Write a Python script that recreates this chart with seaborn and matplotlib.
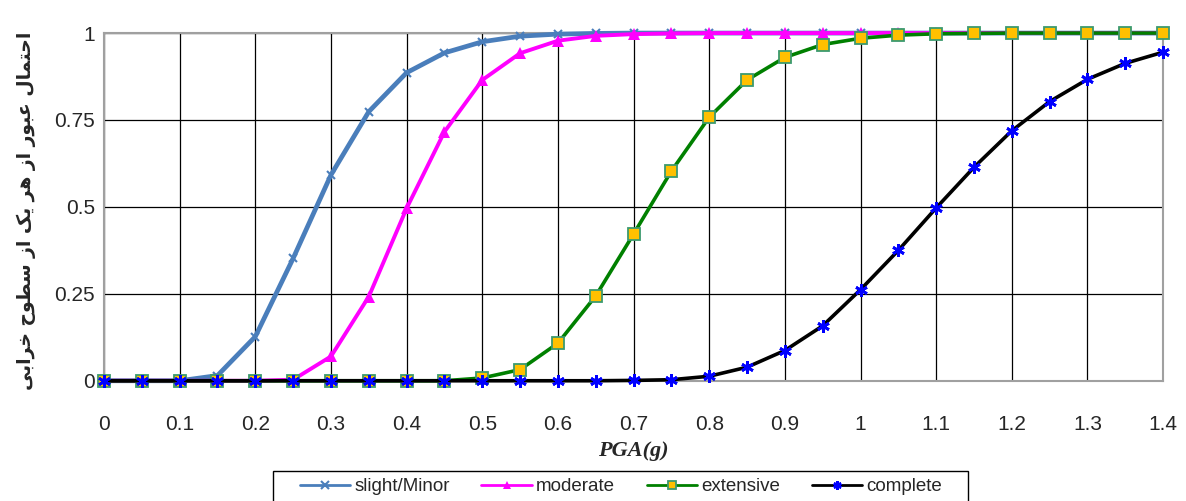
import matplotlib
matplotlib.use("Agg")
import matplotlib.pyplot as plt
from matplotlib.patches import Rectangle
import seaborn as sns
import pandas as pd

pga = [0, 0.05, 0.1, 0.15, 0.2, 0.25, 0.3, 0.35, 0.4, 0.45, 0.5, 0.55, 0.6, 0.65, 0.7,
       0.75, 0.8, 0.85, 0.9, 0.95, 1.0, 1.05, 1.1, 1.15, 1.2, 1.25, 1.3, 1.35, 1.4]

slight = [0, 0, 0, 0.015, 0.127, 0.352, 0.592, 0.774, 0.886, 0.943, 0.975, 0.991, 0.997, 0.999,
          1, 1, 1, 1, 1, 1, 1, 1, 1, 1, 1, 1, 1, 1, 1]
moderate = [0, 0, 0, 0, 0, 0.003, 0.07, 0.242, 0.496, 0.716, 0.865, 0.942, 0.978, 0.992, 0.997,
            0.999, 1, 1, 1, 1, 1, 1, 1, 1, 1, 1, 1, 1, 1]
extensive = [0, 0, 0, 0, 0, 0, 0, 0, 0, 0, 0.008, 0.032, 0.108, 0.244, 0.422, 0.603, 0.758, 0.865,
             0.930, 0.967, 0.985, 0.994, 0.998, 0.999, 1, 1, 1, 1, 1]
complete = [0, 0, 0, 0, 0, 0, 0, 0, 0, 0, 0, 0, 0, 0, 0.001, 0.003, 0.013, 0.039, 0.087, 0.158,
            0.262, 0.375, 0.497, 0.614, 0.719, 0.803, 0.867, 0.913, 0.945]

series_names = ["slight/Minor", "moderate", "extensive", "complete"]
x_ticks = [0, 0.1, 0.2, 0.3, 0.4, 0.5, 0.6, 0.7, 0.8, 0.9, 1.0, 1.1, 1.2, 1.3, 1.4]
x_tick_labels = ["0", "0.1", "0.2", "0.3", "0.4", "0.5", "0.6", "0.7", "0.8", "0.9",
                 "1", "1.1", "1.2", "1.3", "1.4"]
y_ticks = [0, 0.25, 0.5, 0.75, 1]
y_tick_labels = ["0", "0.25", "0.5", "0.75", "1"]
x_title = "PGA(g)"
y_title = "احتمال عبور از هر یک از سطوح خرابی"

# minimal arabic/persian shaping (matplotlib has no bidi / joining)
FORMS = {
    "ا": ("\uFE8D", "\uFE8E", None, None),
    "ب": ("\uFE8F", "\uFE90", "\uFE91", "\uFE92"),
    "ت": ("\uFE95", "\uFE96", "\uFE97", "\uFE98"),
    "ح": ("\uFEA1", "\uFEA2", "\uFEA3", "\uFEA4"),
    "خ": ("\uFEA5", "\uFEA6", "\uFEA7", "\uFEA8"),
    "ر": ("\uFEAD", "\uFEAE", None, None),
    "ز": ("\uFEAF", "\uFEB0", None, None),
    "س": ("\uFEB1", "\uFEB2", "\uFEB3", "\uFEB4"),
    "ط": ("\uFEC1", "\uFEC2", "\uFEC3", "\uFEC4"),
    "ع": ("\uFEC9", "\uFECA", "\uFECB", "\uFECC"),
    "ل": ("\uFEDD", "\uFEDE", "\uFEDF", "\uFEE0"),
    "م": ("\uFEE1", "\uFEE2", "\uFEE3", "\uFEE4"),
    "ه": ("\uFEE9", "\uFEEA", "\uFEEB", "\uFEEC"),
    "و": ("\uFEED", "\uFEEE", None, None),
    "ی": ("\uFBFC", "\uFBFD", "\uFBFE", "\uFBFF"),
    "ک": ("\uFB8E", "\uFB8F", "\uFB90", "\uFB91"),
}
RIGHT_ONLY = set("اروزدذژ")


def shape(text):
    out = []
    for i, ch in enumerate(text):
        if ch not in FORMS:
            out.append(ch)
            continue
        prev = text[i - 1] if i > 0 else ""
        nxt = text[i + 1] if i + 1 < len(text) else ""
        jp = prev in FORMS and prev not in RIGHT_ONLY
        jn = ch not in RIGHT_ONLY and nxt in FORMS
        iso, fin, ini, med = FORMS[ch]
        if jp and jn:
            out.append(med)
        elif jp:
            out.append(fin)
        elif jn:
            out.append(ini)
        else:
            out.append(iso)
    return "".join(reversed(out))


sns.set_style("white")
plt.rcParams["font.family"] = ["Liberation Sans", "DejaVu Sans"]

fig = plt.figure(figsize=(11.86, 5.01), dpi=100)
ax = fig.add_axes([0.0877, 0.240, 0.893, 0.694])

df = pd.DataFrame({"pga": pga, "slight": slight, "moderate": moderate,
                   "extensive": extensive, "complete": complete})

styles = [
    ("slight", dict(color="#4A7EBB", lw=3.4, marker="x", ms=6, mew=1.5, mfc="#4A7EBB", mec="#4A7EBB")),
    ("moderate", dict(color="#FF00FF", lw=2.8, marker="^", ms=8, mew=0, mfc="#FF00FF", mec="#FF00FF")),
    ("extensive", dict(color="#008000", lw=2.6, marker="s", ms=8, mew=1.3, mfc="#FFC000", mec="#3C9A6E")),
    ("complete", dict(color="black", lw=2.6, marker=(6, 2, 0), ms=9, mew=2, mfc="#0000FF", mec="#0000FF")),
]
for (col, st), name in zip(styles, series_names):
    sns.lineplot(data=df, x="pga", y=col, ax=ax, label=name,
                 color=st["color"], linewidth=st["lw"], marker=st["marker"],
                 markersize=st["ms"], markeredgewidth=st["mew"],
                 markerfacecolor=st["mfc"], markeredgecolor=st["mec"],
                 clip_on=False, zorder=3)

ax.set_xlim(0, 1.4)
ax.set_ylim(0, 1)
ax.set_xticks(x_ticks)
ax.set_xticklabels(x_tick_labels, fontsize=15)
ax.set_yticks(y_ticks)
ax.set_yticklabels(y_tick_labels, fontsize=15)
ax.grid(True, color="black", linewidth=0.9)
ax.tick_params(axis="both", direction="out", length=3, width=1, color="#808080", pad=3.5)
ax.tick_params(axis="x", length=4, pad=21)
for s in ax.spines.values():
    s.set_color("#A0A0A0")
    s.set_linewidth(1.5)

ax.set_xlabel(x_title, fontsize=16, fontweight="bold", fontstyle="italic",
              family=["Liberation Serif"], labelpad=5)
ax.set_ylabel(shape(y_title), fontsize=13.5, fontweight="bold", family=["DejaVu Sans"])
ax.yaxis.set_label_coords(-0.064, 0.49)

leg = ax.legend(loc="upper center", bbox_to_anchor=(0.488, -0.259), ncol=4,
                frameon=False, fontsize=13.5,
                handlelength=2.7, columnspacing=1.7, borderpad=0.4,
                handletextpad=0.2, borderaxespad=0)
for ln in leg.get_lines():
    ln.set_linewidth(2)
    ln.set_markersize(6)

# the original legend frame is wider than its entries: draw it by hand
fig.canvas.draw()
bb = leg.get_window_extent()
extra = 19
x0, y0 = fig.transFigure.inverted().transform((bb.x0 - extra, bb.y0 - 12))
x1, y1 = fig.transFigure.inverted().transform((bb.x1 + extra, bb.y1))
fig.add_artist(Rectangle((x0, y0), x1 - x0, y1 - y0, transform=fig.transFigure,
                         fill=False, edgecolor="black", linewidth=1))

fig.savefig("out.png", dpi=100)
